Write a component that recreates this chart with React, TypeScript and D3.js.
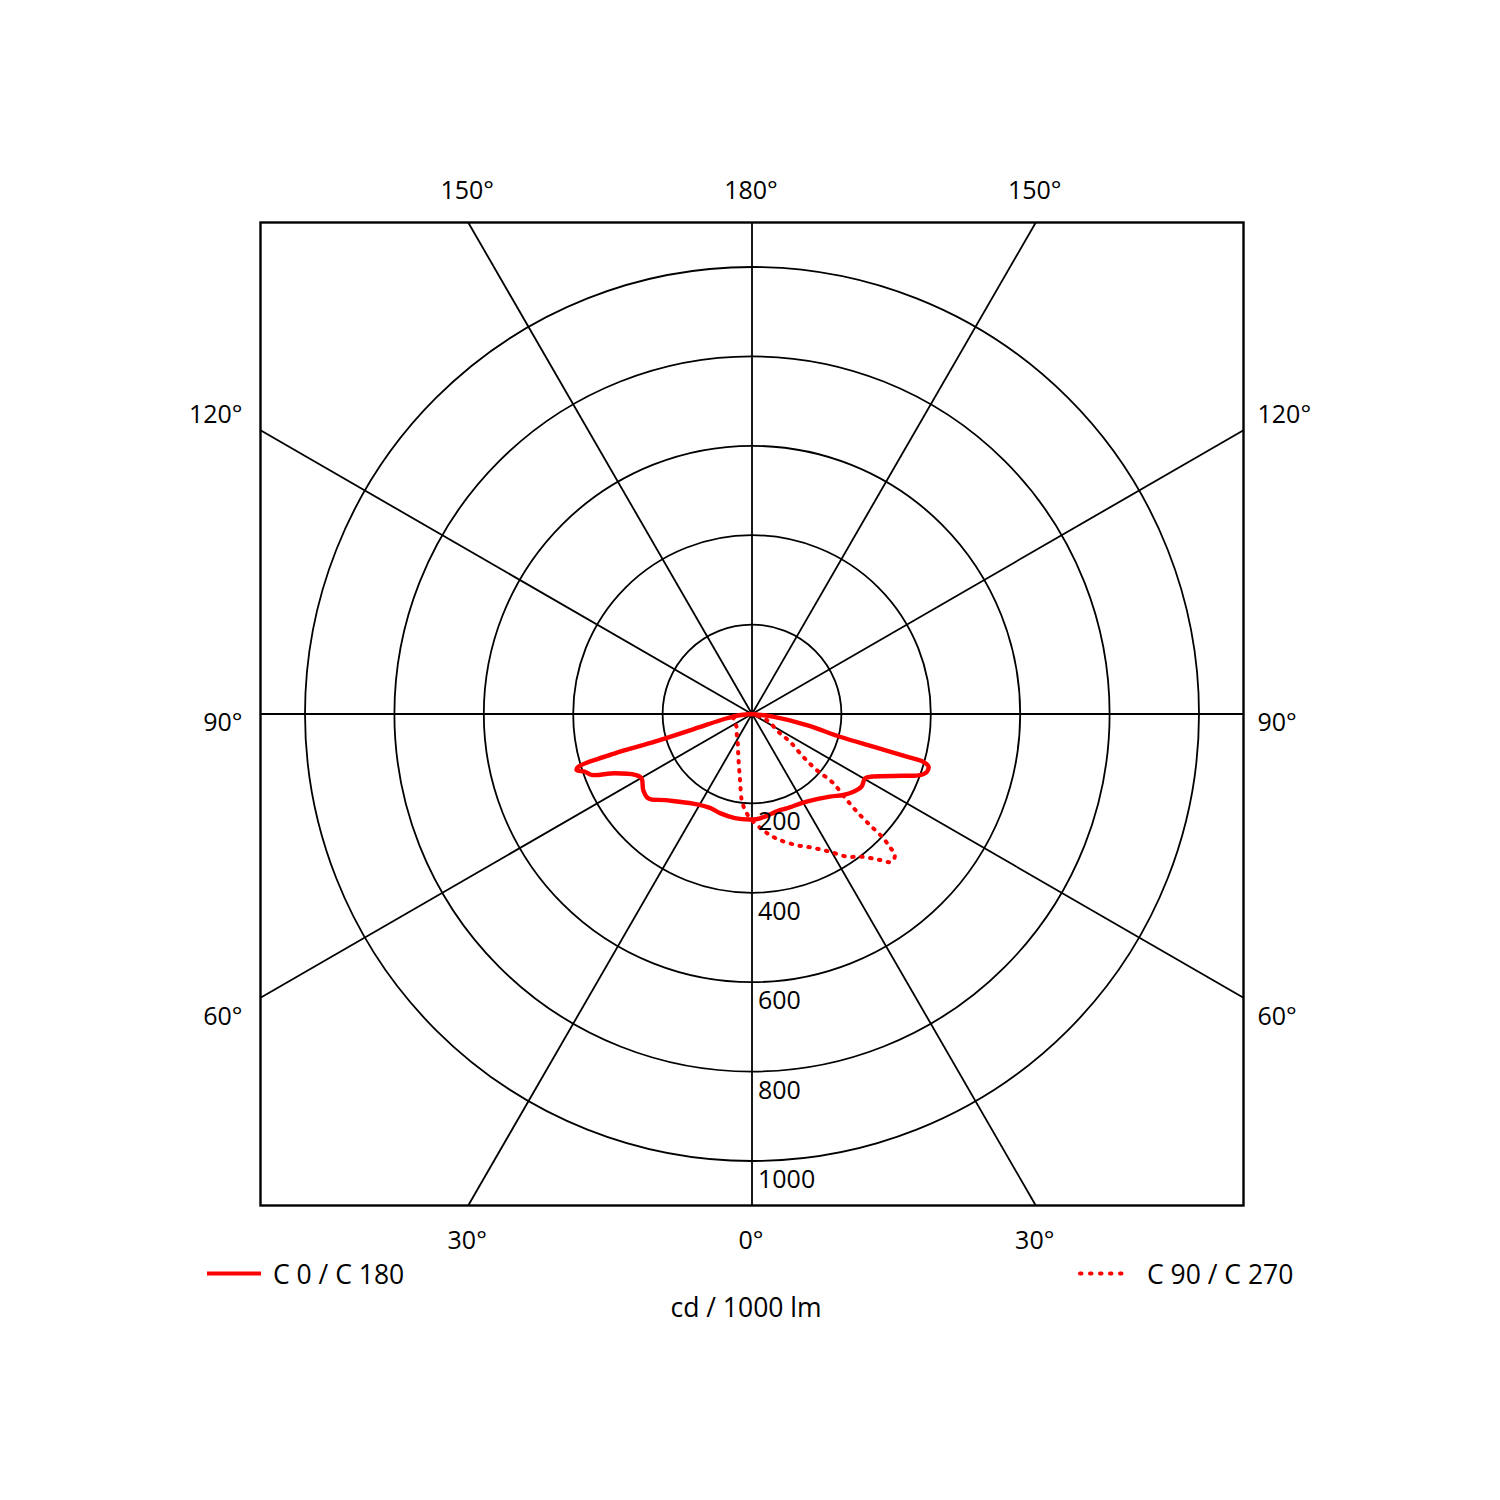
import React, { useEffect, useRef } from 'react';
import * as d3 from 'd3';

// C0 / C180 plane: gamma in degrees (negative = left half), cd per 1000 lm
const c0Gamma = [-90, -85, -80.4, -75.4, -74.1, -74.0, -73.1, -72.3, -70.9, -69.2, -66.6, -62.5, -59.8, -55.0, -50.9, -45.3, -33.4, -24.1, -17.9, -9.3, 0, 4.4, 16.3, 20.2, 31.9, 43.3, 48.4, 52.5, 56.5, 60.4, 62.7, 67.8, 70.0, 71.7, 73.4, 74.4, 74.6, 74.9, 75.5, 78.6, 82.7, 90];
const c0Values = [0, 25, 57, 136, 226, 319, 406, 412, 395, 384, 334, 295, 286, 297, 299, 274, 240, 230, 233, 236, 236, 234, 224, 225, 231, 254, 273, 286, 294, 291, 305, 366, 400, 412, 412, 398, 359, 281, 203, 125, 47, 0];

// C90 / C270 plane
const c90Gamma = [-90, -80, -72.2, -50, -38.4, -25, -17.8, -10.3, -6.8, -4.2, -1.1, 5.4, 8.5, 12.5, 18.8, 24.5, 29.5, 33.6, 37.9, 41.2, 43.4, 45.4, 46.0, 46.6, 46.7, 46.9, 47.8, 49.6, 49.1, 50.1, 53.9, 55.4, 67.8, 90];
const c90Values = [0, 40, 44, 45, 55, 75, 100, 150, 194, 215, 233, 261, 274, 289, 310, 329, 354, 383, 405, 434, 455, 449, 429, 404, 372, 331, 286, 238, 191, 149, 105, 76, 35, 0];

const ringValues = [200, 400, 600, 800, 1000];
const spokeAngles = [-150, -120, -90, -60, -30, 0, 30, 60, 90, 120, 150, 180];
const labelAngles = [-150, 180, 150, -120, 120, -90, 90, -60, 60, -30, 0, 30];
const legendLabels = ['C 0 / C 180', 'C 90 / C 270'];
const unitLabel = 'cd / 1000 lm';

const RED = '#ff0000';
const FONT = '"Open Sans", "Noto Sans", sans-serif';

const App: React.FC = () => {
    const svgRef = useRef<SVGSVGElement>(null);

    const width = 1500;
    const height = 1500;

    useEffect(() => {
        if (!svgRef.current) return;

        const svg = d3.select(svgRef.current);
        svg.selectAll('*').remove();

        const cx = 752;
        const cy = 714;
        const half = 491.5;
        const rMax = 447;

        const r = d3.scaleLinear().domain([0, 1000]).range([0, rMax]);
        const rad = (deg: number) => deg * Math.PI / 180;

        const g = svg.append('g').attr('transform', `translate(${cx},${cy})`);

        // frame
        g.append('rect')
            .attr('x', -half).attr('y', -half)
            .attr('width', half * 2).attr('height', half * 2)
            .attr('fill', 'none').attr('stroke', '#000').attr('stroke-width', 2.4);

        // rings
        g.selectAll('circle.ring')
            .data(ringValues)
            .join('circle')
            .attr('class', 'ring')
            .attr('r', d => r(d))
            .attr('fill', 'none')
            .attr('stroke', '#000')
            .attr('stroke-width', 1.8);

        // spokes out to the frame
        g.selectAll('line.spoke')
            .data(spokeAngles)
            .join('line')
            .attr('class', 'spoke')
            .attr('x1', 0).attr('y1', 0)
            .attr('x2', a => {
                const dx = Math.sin(rad(a)), dy = Math.cos(rad(a));
                return dx * half / Math.max(Math.abs(dx), Math.abs(dy));
            })
            .attr('y2', a => {
                const dx = Math.sin(rad(a)), dy = Math.cos(rad(a));
                return dy * half / Math.max(Math.abs(dx), Math.abs(dy));
            })
            .attr('stroke', '#000')
            .attr('stroke-width', 1.8);

        // curves (gamma 0 points down)
        const line = d3.lineRadial<[number, number]>()
            .angle(d => rad(180 - d[0]))
            .radius(d => r(d[1]))
            .curve(d3.curveCatmullRom.alpha(0.5));

        const c0 = c0Gamma.map((a, i) => [a, c0Values[i]] as [number, number]);
        const c90 = c90Gamma.map((a, i) => [a, c90Values[i]] as [number, number]);

        g.append('path')
            .datum(c90)
            .attr('fill', 'none')
            .attr('stroke', RED)
            .attr('stroke-width', 4)
            .attr('stroke-linecap', 'round')
            .attr('stroke-dasharray', '1.5 7.5')
            .attr('d', line);

        g.append('path')
            .datum(c0)
            .attr('fill', 'none')
            .attr('stroke', RED)
            .attr('stroke-width', 4.4)
            .attr('stroke-linejoin', 'round')
            .attr('d', line);

        // ring labels
        g.selectAll('text.ring-label')
            .data(ringValues)
            .join('text')
            .attr('class', 'ring-label')
            .attr('x', 6)
            .attr('y', d => r(d) + 27)
            .attr('font-family', FONT)
            .attr('font-size', 25)
            .text(d => d);

        // angle labels
        const labels = svg.append('g')
            .attr('font-family', FONT)
            .attr('font-size', 25);

        labelAngles.forEach(a => {
            const abs = Math.abs(a);
            const dx = Math.sin(rad(a));
            const dy = Math.cos(rad(a));
            const t = labels.append('text').text(`${abs}°`);
            if (abs >= 150) {
                t.attr('x', cx + dx * half / Math.abs(dy) - 1).attr('y', cy - half - 24).attr('text-anchor', 'middle');
            } else if (abs <= 30) {
                t.attr('x', cx + dx * half / Math.abs(dy) - 1).attr('y', cy + half + 43).attr('text-anchor', 'middle');
            } else {
                const edgeY = Math.abs(dy) < 1e-6 ? 0 : dy * half / Math.abs(dx);
                const shift = Math.abs(dy) < 1e-6 ? 8 : Math.sign(dy) * 17 + 1;
                t.attr('y', cy + edgeY + shift + 9);
                if (a < 0) t.attr('x', cx - half - 18).attr('text-anchor', 'end');
                else t.attr('x', cx + half + 14).attr('text-anchor', 'start');
            }
        });

        // legend
        const legend = svg.append('g')
            .attr('font-family', FONT)
            .attr('font-size', 26.5);

        legend.append('line')
            .attr('x1', 207).attr('x2', 261)
            .attr('y1', 1273.5).attr('y2', 1273.5)
            .attr('stroke', RED).attr('stroke-width', 3.8);
        legend.append('text').attr('x', 273).attr('y', 1284).text(legendLabels[0]);

        legend.append('line')
            .attr('x1', 1080).attr('x2', 1128)
            .attr('y1', 1273.5).attr('y2', 1273.5)
            .attr('stroke', RED).attr('stroke-width', 4)
            .attr('stroke-linecap', 'round')
            .attr('stroke-dasharray', '1.5 8.5');
        legend.append('text').attr('x', 1147).attr('y', 1284).text(legendLabels[1]);

        legend.append('text')
            .attr('x', 746).attr('y', 1317)
            .attr('text-anchor', 'middle')
            .text(unitLabel);
    }, []);

    return (
        <svg ref={svgRef} width={width} height={height} style={{ position: 'absolute', left: 0, top: 0, background: '#fff' }}></svg>
    );
};

export default App;
